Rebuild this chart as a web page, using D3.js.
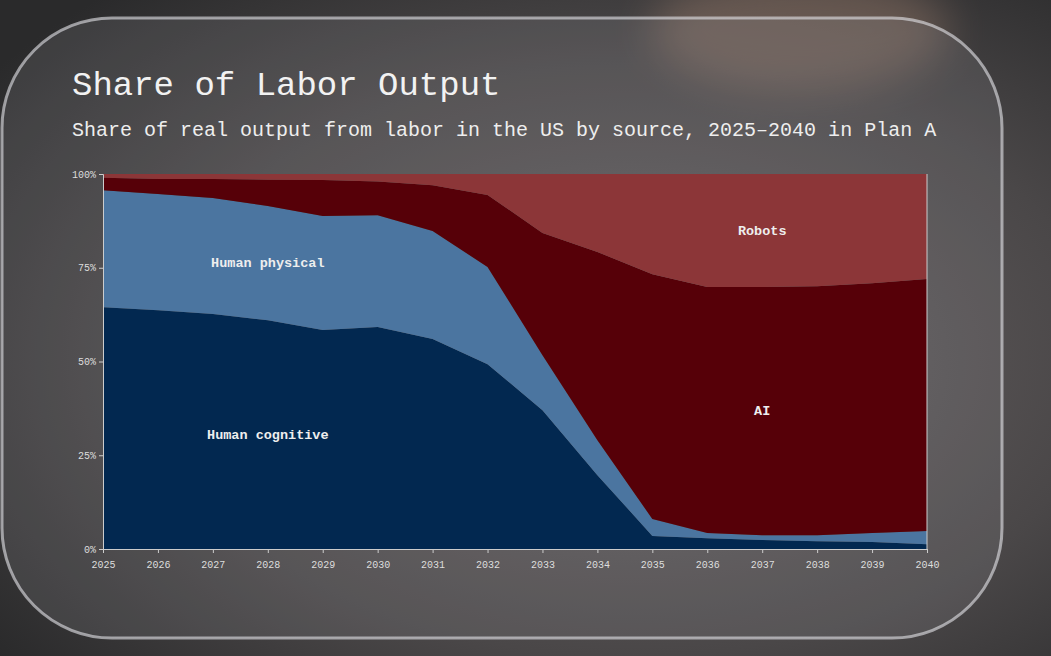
<!DOCTYPE html>
<html><head><meta charset="utf-8">
<script src="https://cdn.jsdelivr.net/npm/d3@7"></script>
<style>body{margin:0;background:#333;overflow:hidden}</style>
</head><body>
<svg id="c" width="1051" height="656"></svg>
<script>
const years=[2025,2026,2027,2028,2029,2030,2031,2032,2033,2034,2035,2036,2037,2038,2039,2040];
const humanCognitive=[64.5,63.7,62.7,61,58.4,59.2,56,49.3,37,19.7,3.5,2.9,2.4,2.1,1.9,1.3];
const humanPhysical=[31.2,31,30.9,30.5,30.4,29.8,28.8,25.9,14.7,9.3,4.5,1.4,1.3,1.6,2.4,3.5];
const ai=[3.3,4,5.1,7,9.6,9,12.2,19.2,32.6,50.2,65.3,65.6,66.2,66.4,66.6,67.2];
const robots=years.map((y,i)=>100-humanCognitive[i]-humanPhysical[i]-ai[i]);
const yTicks=[0,25,50,75,100];
const keys=["Human cognitive","Human physical","AI","Robots"];
const colors=["#022850","#4b75a0","#560008","#8c3638"];
const labels=[{k:"Human cognitive",x:2028,y:30.5},{k:"Human physical",x:2028,y:76.5},{k:"AI",x:2037,y:37},{k:"Robots",x:2037,y:85}];

const svg=d3.select("#c");
const defs=svg.append("defs");
const bg=defs.append("radialGradient").attr("id","bg").attr("cx","60%").attr("cy","55%").attr("r","75%");
bg.append("stop").attr("offset","0").attr("stop-color","#6b6566");
bg.append("stop").attr("offset","0.6").attr("stop-color","#4a4748");
bg.append("stop").attr("offset","1").attr("stop-color","#2a2a2b");
svg.append("rect").attr("width",1051).attr("height",656).attr("fill","url(#bg)");
svg.append("ellipse").attr("cx",800).attr("cy",30).attr("rx",150).attr("ry",60).attr("fill","#b08a74").attr("opacity",0.35).style("filter","blur(20px)");
svg.append("rect").attr("x",2).attr("y",18).attr("width",1000).attr("height",620).attr("rx",110)
 .attr("fill","rgba(150,150,155,0.18)").attr("stroke","rgba(230,230,235,0.6)").attr("stroke-width",3);

const m={l:103,r:927,t:174,b:549};
const x=d3.scaleLinear().domain([2025,2040]).range([m.l,m.r]);
const y=d3.scaleLinear().domain([0,100]).range([m.b,m.t]);
const data=years.map((yr,i)=>({year:yr,"Human cognitive":humanCognitive[i],"Human physical":humanPhysical[i],"AI":ai[i],"Robots":robots[i]}));
const stack=d3.stack().keys(keys)(data);
const area=d3.area().x(d=>x(d.data.year)).y0(d=>y(d[0])).y1(d=>y(d[1]));
svg.append("g").selectAll("path").data(stack).join("path").attr("d",area).attr("fill",(d,i)=>colors[i]);

svg.append("g").selectAll("text").data(labels).join("text")
 .attr("x",d=>x(d.x)).attr("y",d=>y(d.y)).attr("text-anchor","middle").attr("dy","0.35em")
 .attr("fill","#eee").attr("font-family","Liberation Mono, monospace").attr("font-weight","bold").attr("font-size",13.5).text(d=>d.k);

const ax=svg.append("g").attr("transform",`translate(0,${m.b})`).call(d3.axisBottom(x).tickValues(years).tickFormat(d3.format("d")).tickSize(4));
const ay=svg.append("g").attr("transform",`translate(${m.l},0)`).call(d3.axisLeft(y).tickValues(yTicks).tickFormat(d=>d+"%").tickSize(4));
svg.append("line").attr("x1",m.r).attr("x2",m.r).attr("y1",m.t).attr("y2",m.b).attr("stroke","#ccc");
[ax,ay].forEach(a=>{a.selectAll("path,line").attr("stroke","#ccc");a.selectAll("text").attr("fill","#ddd").attr("font-family","Liberation Mono, monospace").attr("font-size",10);});
ax.selectAll("text").attr("dy","1.2em");

svg.append("text").attr("x",72).attr("y",95).attr("fill","#f2f2f2").attr("font-family","Liberation Mono, monospace").attr("font-size",34).text("Share of Labor Output");
svg.append("text").attr("x",72).attr("y",136).attr("fill","#eee").attr("font-family","Liberation Mono, monospace").attr("font-size",20).text("Share of real output from labor in the US by source, 2025–2040 in Plan A");
</script>
</body></html>
